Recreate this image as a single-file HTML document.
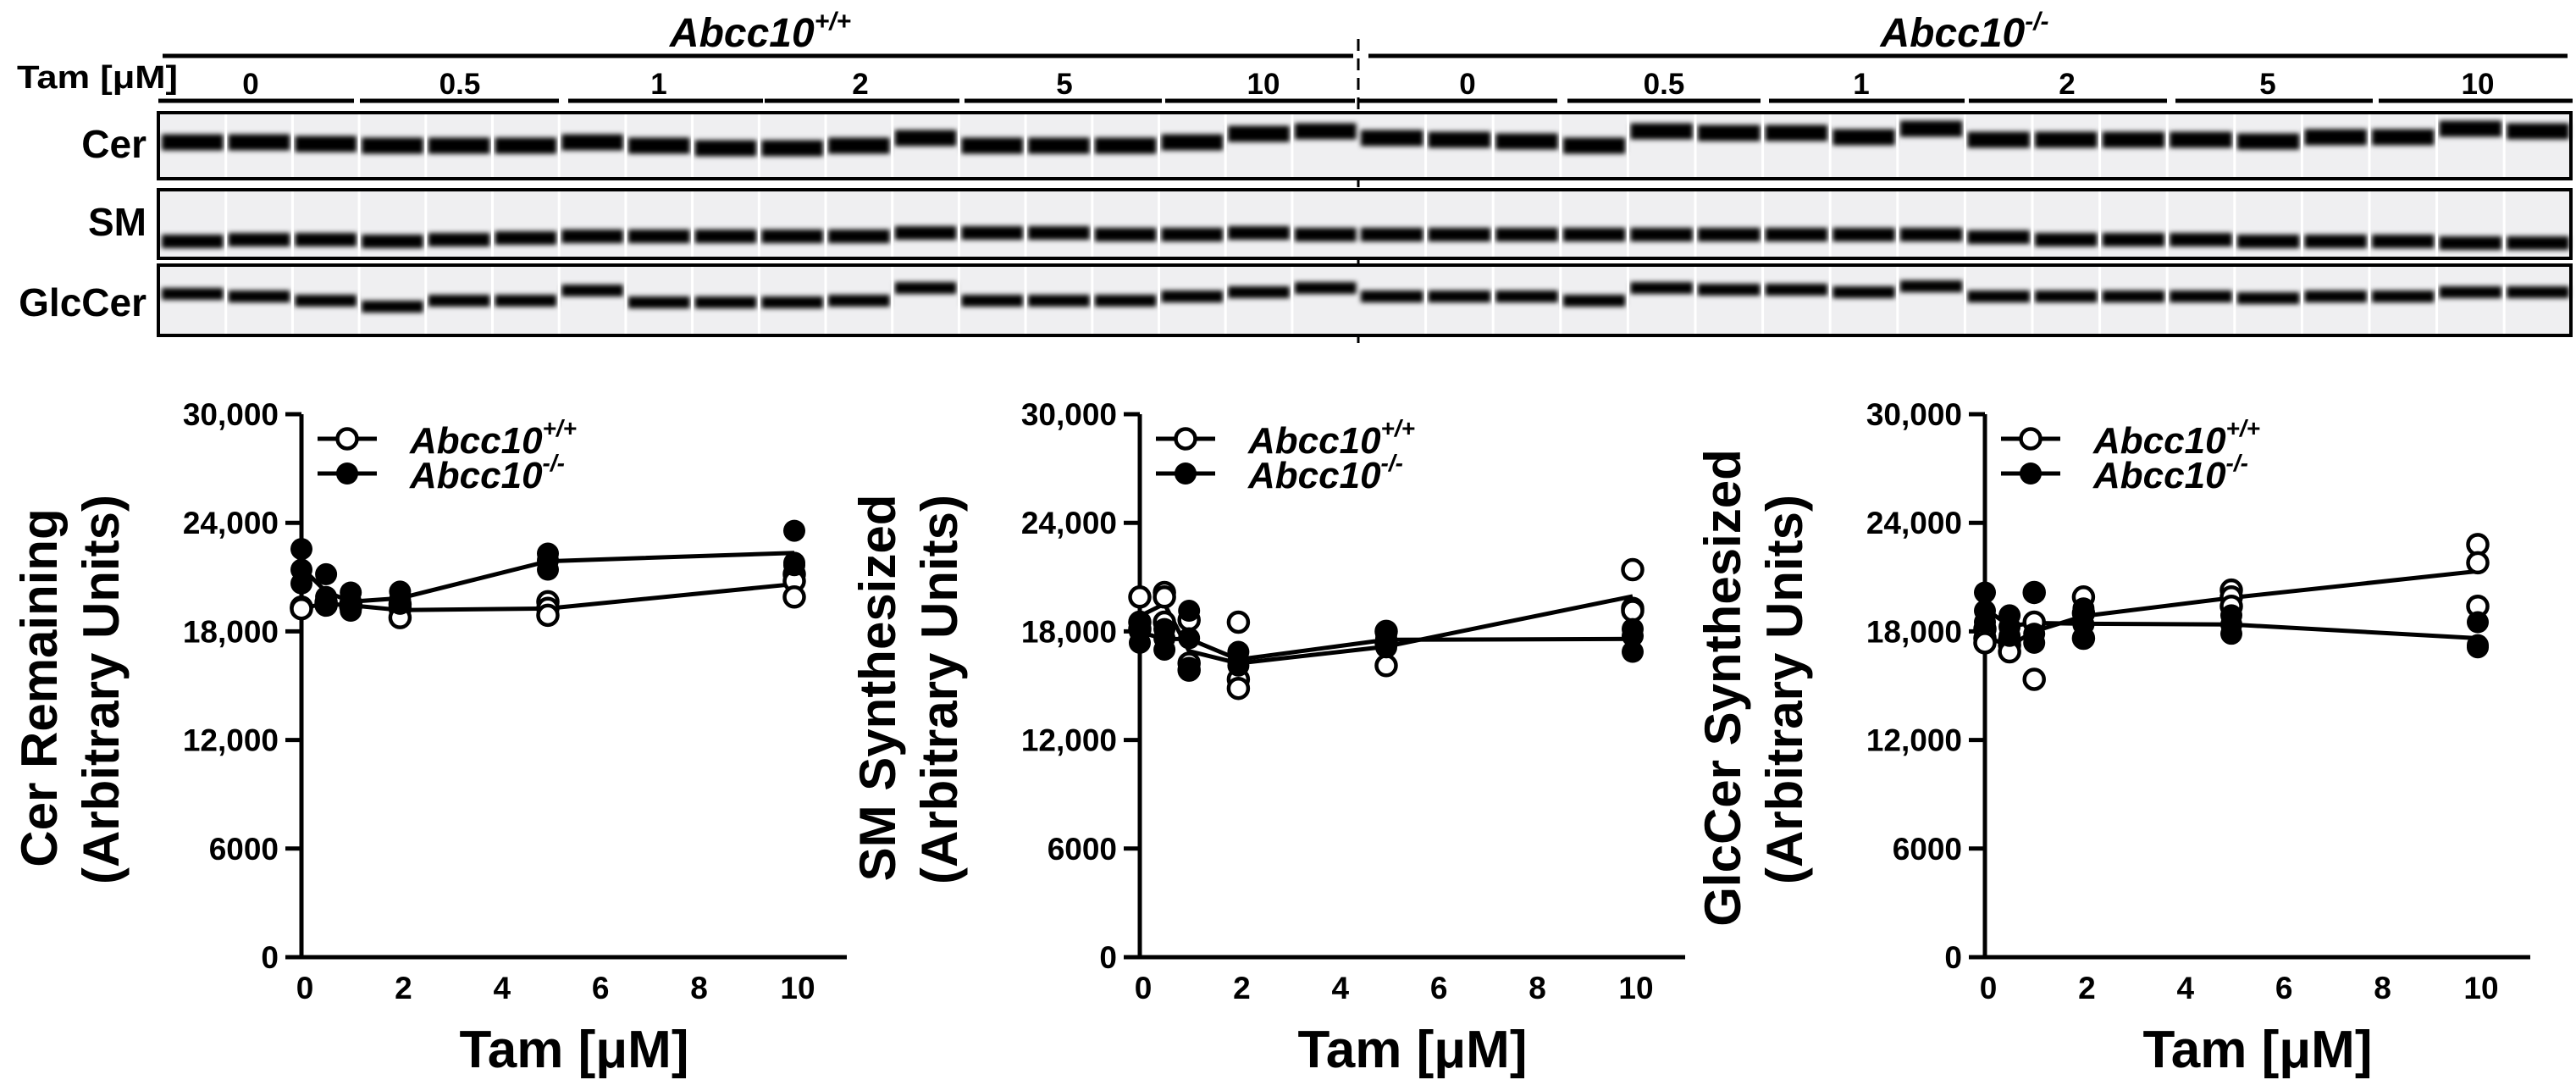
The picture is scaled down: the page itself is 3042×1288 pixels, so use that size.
<!DOCTYPE html>
<html><head><meta charset="utf-8"><style>
html,body{margin:0;padding:0;background:#fff;}
svg{display:block;font-family:"Liberation Sans",Arial,sans-serif;}
</style></head><body>
<svg id="fig" width="3042" height="1288" viewBox="0 0 3042 1288" xmlns="http://www.w3.org/2000/svg">
<defs><filter id="blur" x="-20%" y="-100%" width="140%" height="300%"><feGaussianBlur stdDeviation="3"/></filter></defs>
<g id="blot">
  <text x="898" y="55" font-size="48" font-weight="bold" font-style="italic" text-anchor="middle">Abcc10<tspan font-size="30" dy="-20">+/+</tspan></text>
  <text x="2320" y="55" font-size="48" font-weight="bold" font-style="italic" text-anchor="middle">Abcc10<tspan font-size="30" dy="-20">-/-</tspan></text>
  <line x1="192" y1="66" x2="1598" y2="66" stroke="#000" stroke-width="5"/>
  <line x1="1616" y1="66" x2="3032" y2="66" stroke="#000" stroke-width="5"/>
  <text x="20" y="104" font-size="38" font-weight="bold" textLength="190" lengthAdjust="spacingAndGlyphs">Tam [μM]</text>
  <line x1="1604" y1="46" x2="1604" y2="412" stroke="#000" stroke-width="3" stroke-dasharray="14,9"/>
  <text x="173" y="186" font-size="46" font-weight="bold" text-anchor="end">Cer</text>
  <text x="173" y="278" font-size="46" font-weight="bold" text-anchor="end">SM</text>
  <text x="173" y="373" font-size="46" font-weight="bold" text-anchor="end">GlcCer</text>
</g>
</svg>
<script>
// ---- chart data (Tam dose in µM; replicate values, arbitrary units) ----
const doses = [0, 0.5, 1, 2, 5, 10];
const yTicks = [0, 6000, 12000, 18000, 24000, 30000];
const yTickLabels = ["0", "6000", "12,000", "18,000", "24,000", "30,000"];
const xTicks = [0, 2, 4, 6, 8, 10];
const xTickLabels = ["0", "2", "4", "6", "8", "10"];
const cerWT = [[19340,19300,19250],[19520,19600,19450],[19440,19500,19380],[19500,19270,18760],[19640,19270,18890],[21160,20780,19900]];
const cerKO = [[22550,21410,20650],[21160,19900,19520],[20150,19640,19140],[20200,19770,19520],[22300,21920,21410],[23560,21790,21660]];
const smWT = [[19900,18510,18130],[20150,19900,18510],[18630,16240,15860],[18510,15350,14850],[18000,17370,16110],[21410,19270,19140]];
const smKO = [[18510,18000,17370],[18130,17620,16990],[19140,17620,15990],[16870,16360,16110],[17870,17620,17120],[18130,17750,16870]];
const gcWT = [[18130,17620,17370],[17500,17250,16870],[20150,18510,15350],[19900,19010,17620],[20280,19900,19390],[22800,21790,19390]];
const gcKO = [[20150,19140,18510],[18890,18260,17750],[20150,17870,17370],[19270,18380,17620],[18890,18380,17870],[18510,17120,17240]];
// blot lane labels
const laneGroups = ["0", "0.5", "1", "2", "5", "10"];

const NS = "http://www.w3.org/2000/svg";
const fig = document.getElementById("fig");
function mk(tag, attrs, parent) {
  const e = document.createElementNS(NS, tag);
  for (const k in attrs) e.setAttribute(k, attrs[k]);
  (parent || fig).appendChild(e);
  return e;
}

// ---- blot ----
const blot = document.getElementById("blot");
const segL = [[187,418],[425,660],[671,901],[903,1133],[1139,1372],[1376,1600]];
const segR = [[1604,1839],[1851,2079],[2089,2320],[2325,2559],[2569,2802],[2809,3038]];
const labL = [296,543,778,1016,1257,1492];
const labR = [1733,1965,2198,2441,2678,2926];
[[segL,labL,"wt"],[segR,labR,"ko"]].forEach(([segs,labs,g])=>{
  segs.forEach((s,i)=>{
    const ln = mk("line",{x1:s[0],y1:119,x2:s[1],y2:119,stroke:"#000","stroke-width":5},blot);
    
    
    const t = mk("text",{x:labs[i],y:111,"font-size":35,"font-weight":"bold","text-anchor":"middle"},blot);
    t.textContent = laneGroups[i];
    
    
  });
});
const rows = [
  {name:"cer", top:133, bot:211, h:19, band:[168,168,170,172,172,172,168,172,175,175,172,163,172,172,172,168,158,155,163,165,167,172,155,157,157,162,152,165,165,165,165,167,162,162,152,155]},
  {name:"sm", top:224, bot:305, h:16, band:[285,283,283,285,283,281,279,279,279,279,279,275,275,275,277,277,275,277,277,277,277,277,277,277,277,277,277,280,283,283,283,285,285,285,287,287]},
  {name:"glccer", top:313, bot:396, h:14, band:[347,350,355,362,355,355,343,357,357,357,355,340,355,355,355,350,345,340,350,350,350,355,340,342,342,345,338,350,350,350,350,352,350,350,345,345]}
];
rows.forEach(r=>{
  const bg = mk("rect",{x:188,y:r.top,width:2848,height:r.bot-r.top,fill:"#efeff1"},blot);
  
  
  for (let i=0;i<36;i++){
    const x = i<18 ? 188+i*78.7 : 1604+(i-18)*79.6;
    const w = i<18 ? 78.7 : 79.6;
    const b = mk("rect",{x:x+3,y:r.band[i]-r.h/2,width:w-6,height:r.h,fill:"#000",filter:"url(#blur)"},blot);
    
    
    if (i>0 && i!==18){
      const sep = mk("rect",{x:x-1.5,y:r.top,width:3,height:r.bot-r.top,fill:"#fff"},blot);
      
      
    }
  }
  const fr = mk("rect",{x:187,y:r.top,width:2849,height:r.bot-r.top,fill:"none",stroke:"#000","stroke-width":4},blot);
  
  
});

// ---- charts ----
const Y0 = 1130, Y30 = 489, XS = 58.2;
function mean(a){return a.reduce((s,v)=>s+v,0)/a.length;}
function chart(id, ax, title1, wt, ko) {
  const g = mk("g",{});
  
  
  const yS = v => Y0 - (v/30000)*(Y0-Y30);
  const xS = d => ax + d*XS;
  const t1 = mk("text",{x:0,y:0,"font-size":60,"font-weight":"bold","text-anchor":"middle",transform:`translate(${ax-289},812) rotate(-90)`},g);
  t1.textContent = title1;
  
  
  const t2 = mk("text",{x:0,y:0,"font-size":60,"font-weight":"bold","text-anchor":"middle",transform:`translate(${ax-216},814) rotate(-90)`},g);
  t2.textContent = "(Arbitrary Units)";
  
  
  const ya = mk("line",{x1:ax,y1:Y30,x2:ax,y2:Y0+2,stroke:"#000","stroke-width":5},g);
  
  
  const xa = mk("line",{x1:ax-19,y1:Y0,x2:ax+644,y2:Y0,stroke:"#000","stroke-width":5},g);
  
  
  yTicks.forEach((v,i)=>{
    const tk = mk("line",{x1:ax-19,y1:yS(v),x2:ax,y2:yS(v),stroke:"#000","stroke-width":5},g);
    
    
    const tl = mk("text",{x:ax-27,y:yS(v)+13,"font-size":37,"font-weight":"bold","text-anchor":"end"},g);
    tl.textContent = yTickLabels[i];
    
    
  });
  xTicks.forEach((v,i)=>{
    const tl = mk("text",{x:xS(v)+4,y:1179,"font-size":37,"font-weight":"bold","text-anchor":"middle"},g);
    tl.textContent = xTickLabels[i];
    
    
  });
  const xt = mk("text",{x:ax+322,y:1260,"font-size":62,"font-weight":"bold","text-anchor":"middle"},g);
  xt.textContent = "Tam [μM]";
  
  
  [[ko,true,"ko"],[wt,false,"wt"]].forEach(([data,filled,nm])=>{
    const pts = doses.map((d,i)=>`${xS(d)},${yS(mean(data[i]))}`).join(" ");
    const pl = mk("polyline",{points:pts,fill:"none",stroke:"#000","stroke-width":5},g);
    
    
  });
  [[wt,false,"wt"],[ko,true,"ko"]].forEach(([data,filled,nm])=>{
    doses.forEach((d,i)=>{
      data[i].forEach(v=>{
        const c = mk("circle",{cx:xS(d),cy:yS(v),r:filled?13:11.5,fill:filled?"#000":"#fff",stroke:"#000","stroke-width":filled?0:4.5},g);
        
        
      });
    });
  });
  [[518,false,"+/+","wt"],[559,true,"-/-","ko"]].forEach(([ly,filled,sup,nm])=>{
    const l = mk("line",{x1:ax+19,y1:ly,x2:ax+89,y2:ly,stroke:"#000","stroke-width":5},g);
    
    
    const c = mk("circle",{cx:ax+54,cy:ly,r:filled?13:11.5,fill:filled?"#000":"#fff",stroke:"#000","stroke-width":filled?0:4.5},g);
    
    
    const t = mk("text",{x:ax+128,y:ly+17,"font-size":44,"font-weight":"bold","font-style":"italic"},g);
    t.textContent = "Abcc10";
    const s = mk("tspan",{"font-size":28,dy:-20},t);
    s.textContent = sup;
    
    
  });
}
chart("cer-remaining", 356, "Cer Remaining", cerWT, cerKO);
chart("sm-synthesized", 1346, "SM Synthesized", smWT, smKO);
chart("glccer-synthesized", 2344, "GlcCer Synthesized", gcWT, gcKO);
</script>
</body></html>
